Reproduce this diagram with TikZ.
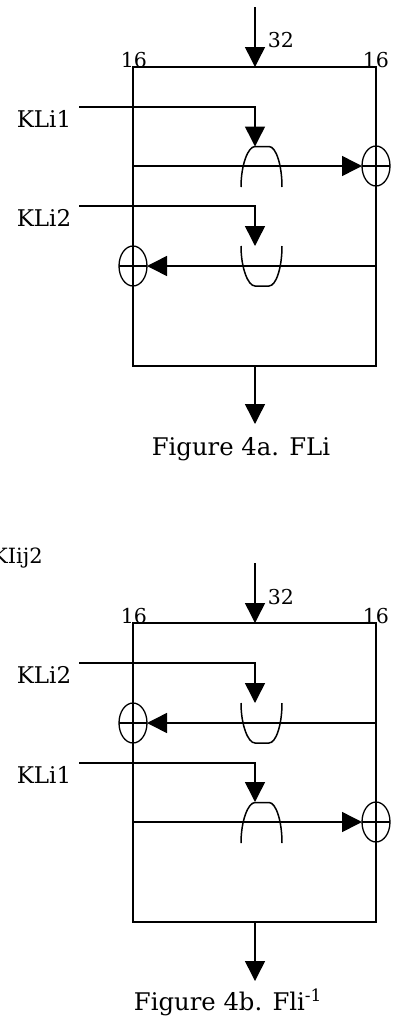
\documentclass[tikz,border=0pt]{standalone}
\usepackage{fontspec}
\setmainfont{DejaVu Serif}
\usetikzlibrary{arrows.meta,shapes.geometric}
\tikzset{
  ln/.style={line width=1.5bp,black},
  arr/.style={ln,-{Triangle[width=20bp,length=20bp]},shorten >=0pt},
  xorgate/.style={ellipse,draw,line width=1.3bp,minimum width=28bp,minimum height=40bp,inner sep=0pt,outer sep=0pt,
    path picture={\draw[line width=1.3bp] (path picture bounding box.west)--(path picture bounding box.east);}},
  num/.style={font=\fontsize{20.5bp}{22bp}\selectfont,inner sep=0pt,anchor=base},
  lab/.style={font=\fontsize{23bp}{25bp}\selectfont,inner sep=0pt,anchor=base},
  captext/.style={font=\fontsize{24.3bp}{28bp}\selectfont,inner sep=0pt,anchor=base}
}
\begin{document}
\begin{tikzpicture}[x=1bp,y=-1bp]
\useasboundingbox (0,0) rectangle (403,1024);
% --- Figure 4a
\coordinate (aIn) at (255,7);
\coordinate (aTop) at (255,67);
\coordinate (aBot) at (255,366);
\coordinate (aOut) at (255,424);
\coordinate (aTL) at (133,67);
\coordinate (aTR) at (376,67);
\coordinate (aBL) at (133,366);
\coordinate (aBR) at (376,366);
\coordinate (aK1s) at (79,107);
\coordinate (aK1c) at (255,107);
\coordinate (aK1t) at (255,146.5);
\coordinate (aK2s) at (79,206);
\coordinate (aK2c) at (255,206);
\coordinate (aK2t) at (255,246);
\coordinate (aLs) at (133,166);
\coordinate (aRs) at (376,266);
\draw[ln] (aTL) -- (aTR) -- (aBR) -- (aBL) -- cycle;
\node[xorgate] (aXr) at (376,166) {};
\node[xorgate] (aXl) at (133,266) {};
\draw[arr] (aIn) -- (aTop);
\draw[arr] (aBot) -- (aOut);
\draw[arr] (aK1s) -- (aK1c) -- (aK1t);
\draw[arr] (aK2s) -- (aK2c) -- (aK2t);
\draw[arr] (aLs) -- (aXr.west);
\draw[arr] (aRs) -- (aXl.east);
\draw[ln] (241,187) .. controls (241,165) and (248,146.5) .. (255,146.5) -- (269,146.5) .. controls (276,146.5) and (282,165) .. (282,187);
\draw[ln] (241,246) .. controls (241,268) and (248,286) .. (255,286) -- (269,286) .. controls (276,286) and (282,268) .. (282,246);
\node[num] (a16l) at (134,67) {16};
\node[num] (a16r) at (376,67) {16};
\node[num] (a32) at (281,47) {32};
\node[lab] (aK1) at (44,127) {KLi1};
\node[lab] (aK2) at (44,226.5) {KLi2};
\node[captext] (aCap) at (241,455) {Figure 4a. FLi};
% --- stray label
\node[lab,font=\fontsize{21bp}{23bp}\selectfont,anchor=base east] (kij) at (43,563) {KIij2};
% --- Figure 4b
\coordinate (bIn) at (255,563);
\coordinate (bTop) at (255,623);
\coordinate (bBot) at (255,922);
\coordinate (bOut) at (255,981);
\coordinate (bTL) at (133,623);
\coordinate (bTR) at (376,623);
\coordinate (bBL) at (133,922);
\coordinate (bBR) at (376,922);
\coordinate (bK2s) at (79,663);
\coordinate (bK2c) at (255,663);
\coordinate (bK2t) at (255,703);
\coordinate (bK1s) at (79,763);
\coordinate (bK1c) at (255,763);
\coordinate (bK1t) at (255,802);
\coordinate (bLs) at (133,822);
\coordinate (bRs) at (376,723);
\draw[ln] (bTL) -- (bTR) -- (bBR) -- (bBL) -- cycle;
\node[xorgate] (bXl) at (133,723) {};
\node[xorgate] (bXr) at (376,822) {};
\draw[arr] (bIn) -- (bTop);
\draw[arr] (bBot) -- (bOut);
\draw[arr] (bK2s) -- (bK2c) -- (bK2t);
\draw[arr] (bK1s) -- (bK1c) -- (bK1t);
\draw[arr] (bRs) -- (bXl.east);
\draw[arr] (bLs) -- (bXr.west);
\draw[ln] (241,703) .. controls (241,725) and (248,743) .. (255,743) -- (269,743) .. controls (276,743) and (282,725) .. (282,703);
\draw[ln] (241,843) .. controls (241,821) and (248,802.5) .. (255,802.5) -- (269,802.5) .. controls (276,802.5) and (282,821) .. (282,843);
\node[num] (b16l) at (134,623) {16};
\node[num] (b16r) at (376,623) {16};
\node[num] (b32) at (281,604) {32};
\node[lab] (bK2) at (44,683) {KLi2};
\node[lab] (bK1) at (44,783) {KLi1};
\node[captext] (bCap) at (228,1010) {Figure 4b. Fli\textsuperscript{-1}};
\end{tikzpicture}
\end{document}
